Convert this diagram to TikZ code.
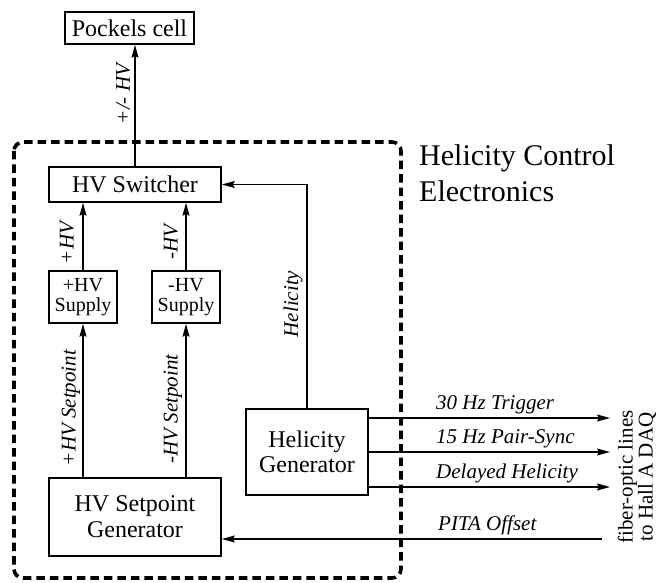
\documentclass[tikz,border=0pt]{standalone}
\usepackage{fontspec}
\setmainfont{Liberation Serif}
\usetikzlibrary{arrows.meta}
\begin{document}
\begin{tikzpicture}[x=1pt,y=-1pt,
  boxnode/.style={draw,line width=1.6pt,minimum width=#1,inner sep=0pt,align=center,
    font=\fontsize{24}{26}\selectfont},
  conn/.style={line width=1.4pt,-{Stealth[length=13pt,width=7pt,inset=2pt]}},
  plainline/.style={line width=1.4pt},
  lab/.style={inner sep=0pt,font=\fontsize{21}{21}\selectfont\itshape},
  vlab/.style={lab,rotate=90}]
\useasboundingbox (0,0) rectangle (657,583);
% dashed enclosure
\draw[line width=3.6pt,dash pattern=on 8.5pt off 5pt,rounded corners=9pt] (14,142) rectangle (401,578);
% nodes
\node[boxnode=129pt,minimum height=32pt] (pc) at (129.5,28) {Pockels cell};
\node[boxnode=172pt,minimum height=35pt] (sw) at (135,184.5) {HV Switcher};
\node[boxnode=68pt,minimum height=52pt,font=\fontsize{20}{20}\selectfont] (ps) at (83,297) {+HV\\Supply};
\node[boxnode=68pt,minimum height=52pt,font=\fontsize{20}{20}\selectfont] (ms) at (186,297) {-HV\\Supply};
\node[boxnode=172pt,minimum height=78pt] (sp) at (135,517) {HV Setpoint\\Generator};
\node[boxnode=122pt,minimum height=86pt,font=\fontsize{24}{25}\selectfont] (hg) at (307,452) {Helicity\\Generator};
% title
\node[anchor=base west,inner sep=0pt,font=\fontsize{30}{36}\selectfont,align=left] (title) at (419,166) {Helicity Control};
\node[anchor=base west,inner sep=0pt,font=\fontsize{30}{36}\selectfont] (title2) at (419,202) {Electronics};
% connectors
\draw[conn] (sw.north) -- (sw.north |- pc.south);
\draw[conn] (ps.north) -- (ps.north |- sw.south);
\draw[conn] (ms.north) -- (ms.north |- sw.south);
\draw[conn] (sp.north -| ps.north) -- (ps.south);
\draw[conn] (sp.north -| ms.north) -- (ms.south);
\draw[conn] (hg.north) |- (sw.east);
\coordinate (o1) at (610,418);
\coordinate (o2) at (610,452);
\coordinate (o3) at (610,487);
\coordinate (pita) at (602,539);
\draw[conn] (hg.east |- o1) -- (o1);
\draw[conn] (hg.east |- o2) -- (o2);
\draw[conn] (hg.east |- o3) -- (o3);
\draw[conn] (pita) -- (pita -| sp.east);
% labels
\node[vlab] (l1) at (123,94) {+/- HV};
\node[vlab] (l2) at (67,243) {+HV};
\node[vlab] (l3) at (171,242) {-HV};
\node[vlab] (l4) at (71,408) {+HV Setpoint};
\node[vlab] (l5) at (173,409) {-HV Setpoint};
\node[vlab] (l6) at (293,304) {Helicity};
\node[lab,anchor=base west] (t1) at (436,409) {30 Hz Trigger};
\node[lab,anchor=base west] (t2) at (436,443) {15 Hz Pair-Sync};
\node[lab,anchor=base west] (t3) at (436,478) {Delayed Helicity};
\node[lab,anchor=base west] (t4) at (438,530) {PITA Offset};
\node[rotate=90,inner sep=0pt,align=center,font=\fontsize{21}{20}\selectfont] (fo) at (637,477) {fiber-optic lines\\to Hall A DAQ};
\end{tikzpicture}
\end{document}
